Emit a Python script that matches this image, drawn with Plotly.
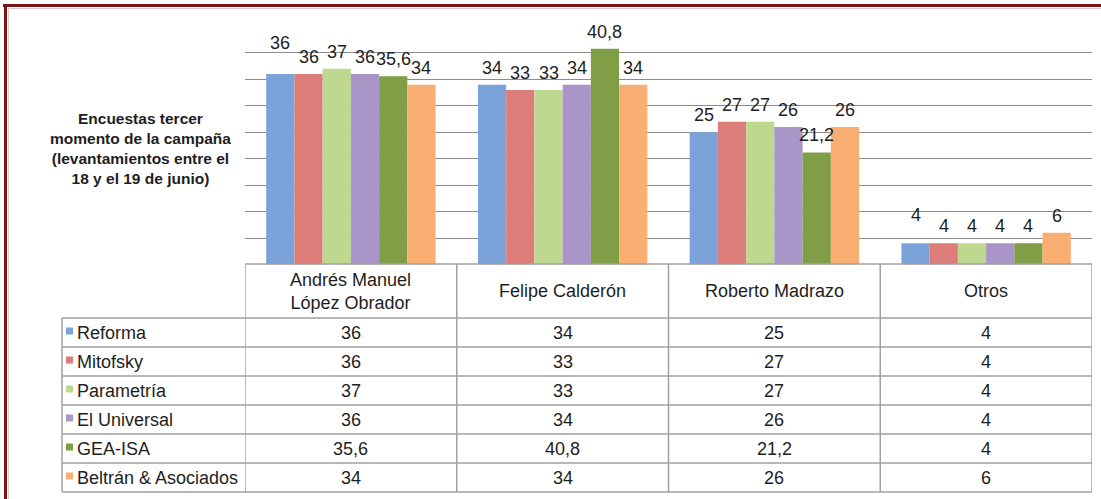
import plotly.graph_objects as go

W, H = 1101, 499

# ---------------- data ----------------
categories = ["Andrés Manuel López Obrador", "Felipe Calderón", "Roberto Madrazo", "Otros"]
header_labels = ["Andrés Manuel<br>López Obrador", "Felipe Calderón", "Roberto Madrazo", "Otros"]
series_names = ["Reforma", "Mitofsky", "Parametría", "El Universal", "GEA-ISA", "Beltrán & Asociados"]
reforma = [36, 34, 25, 4]
mitofsky = [36, 33, 27, 4]
parametria = [37, 33, 27, 4]
el_universal = [36, 34, 26, 4]
gea_isa = [35.6, 40.8, 21.2, 4]
beltran = [34, 34, 26, 6]
series_values = [reforma, mitofsky, parametria, el_universal, gea_isa, beltran]
title_text = ("<b>Encuestas tercer<br>momento de la campaña<br>"
              "(levantamientos entre el<br>18 y el 19 de junio)</b>")

# ---------------- style ----------------
colors = ["#7ba3d9", "#dc7d7a", "#bfd88f", "#a995c8", "#7f9e45", "#f9ae72"]
FONT = "Liberation Sans, Arial, sans-serif"
TXT = "#1e1e1e"
GRID = "#8c8c8c"
TABLE_LINE = "#a0a0a0"
BORDER = "#7d1416"
FS = 18

PLOT_L, PLOT_R, PLOT_T, PLOT_B = 245, 1092, 26.5, 264.5
BARGAP = 0.2
TABLE_L = 62
HEADER_TOP = 264
HEADER_H = 54
ROW_H = 29
LABEL_LIFT = 17
EXTRA_LIFT = {(0, 0): 14, (0, 3): 11}


def fmt(v):
    return f"{v:g}".replace(".", ",")


def px_x(p):
    return p / W


def px_y(p):
    return 1 - p / H


fig = go.Figure()
for name, vals, col in zip(series_names, series_values, colors):
    fig.add_trace(go.Bar(x=categories, y=vals, name=name,
                         marker=dict(color=col, line=dict(width=0)),
                         showlegend=False, hoverinfo="skip"))

annotations = []
shapes = []
n = len(series_names)
wbar = (1 - BARGAP) / n
# value labels above bars
for i, vals in enumerate(series_values):
    for j, v in enumerate(vals):
        xc = j - (1 - BARGAP) / 2 + (i + 0.5) * wbar
        annotations.append(dict(x=xc, y=v, xref="x", yref="y", text=fmt(v),
                                showarrow=False, xanchor="center", yanchor="middle",
                                yshift=LABEL_LIFT + EXTRA_LIFT.get((i, j), 0),
                                font=dict(family=FONT, size=FS, color=TXT)))

# title at left
annotations.append(dict(x=px_x(140), y=px_y(149), xref="paper", yref="paper",
                        text=title_text, showarrow=False, align="center",
                        xanchor="center", yanchor="middle",
                        font=dict(family=FONT, size=15.5, color=TXT)))

# ---------------- data table ----------------
header_bottom = HEADER_TOP + HEADER_H
table_bottom = header_bottom + ROW_H * n
line = dict(color=TABLE_LINE, width=1.5)
# header top line
shapes.append(dict(type="line", xref="x", yref="paper", x0=-0.5, x1=len(categories) - 0.5,
                   y0=px_y(HEADER_TOP), y1=px_y(HEADER_TOP), line=line))
# row lines
for k in range(n + 1):
    yy = px_y(header_bottom + k * ROW_H)
    shapes.append(dict(type="line", xref="paper", yref="paper", x0=px_x(TABLE_L), x1=px_x(PLOT_R),
                       y0=yy, y1=yy, line=line))
# vertical lines at category boundaries
for k in range(len(categories) + 1):
    shapes.append(dict(type="line", xref="x", yref="paper", x0=k - 0.5, x1=k - 0.5,
                       y0=px_y(HEADER_TOP), y1=px_y(table_bottom), line=line))
shapes.append(dict(type="line", xref="paper", yref="paper", x0=px_x(TABLE_L), x1=px_x(TABLE_L),
                   y0=px_y(header_bottom), y1=px_y(table_bottom), line=line))

# header text
for j, lab in enumerate(header_labels):
    annotations.append(dict(x=j, y=px_y(HEADER_TOP + HEADER_H / 2), xref="x", yref="paper",
                            text=lab, showarrow=False, align="center",
                            xanchor="center", yanchor="middle",
                            font=dict(family=FONT, size=FS, color=TXT)))
# rows
for i, (name, vals, col) in enumerate(zip(series_names, series_values, colors)):
    yc = header_bottom + ROW_H * (i + 0.5)
    shapes.append(dict(type="rect", xref="paper", yref="paper",
                       x0=px_x(66), x1=px_x(73), y0=px_y(yc - 5), y1=px_y(yc + 2),
                       line=dict(width=0), fillcolor=col))
    annotations.append(dict(x=px_x(75), y=px_y(yc), xref="paper", yref="paper",
                            text=name, showarrow=False, xanchor="left", yanchor="middle",
                            font=dict(family=FONT, size=FS, color=TXT)))
    for j, v in enumerate(vals):
        annotations.append(dict(x=j, y=px_y(yc), xref="x", yref="paper",
                                text=fmt(v), showarrow=False,
                                xanchor="center", yanchor="middle",
                                font=dict(family=FONT, size=FS, color=TXT)))

# outer frame (top + left) with faint shadow
shapes.append(dict(type="line", xref="paper", yref="paper", x0=px_x(8), x1=1,
                   y0=px_y(8.5), y1=px_y(8.5), line=dict(color="#cfcfcf", width=1)))
shapes.append(dict(type="line", xref="paper", yref="paper", x0=px_x(8.5), x1=px_x(8.5),
                   y0=px_y(8), y1=0, line=dict(color="#cfcfcf", width=1)))
shapes.append(dict(type="line", xref="paper", yref="paper", x0=px_x(3), x1=1,
                   y0=px_y(5.5), y1=px_y(5.5), line=dict(color=BORDER, width=3)))
shapes.append(dict(type="line", xref="paper", yref="paper", x0=px_x(5.5), x1=px_x(5.5),
                   y0=px_y(4), y1=0, line=dict(color=BORDER, width=3)))

fig.update_layout(
    width=W, height=H,
    margin=dict(l=0, r=0, t=0, b=0),
    paper_bgcolor="white", plot_bgcolor="white",
    barmode="group", bargap=BARGAP, bargroupgap=0,
    font=dict(family=FONT, color=TXT),
    xaxis=dict(domain=[px_x(PLOT_L), px_x(PLOT_R)], range=[-0.5, len(categories) - 0.5],
               showticklabels=False, showgrid=False, zeroline=False, showline=False,
               ticks="", fixedrange=True),
    yaxis=dict(domain=[px_y(PLOT_B), px_y(PLOT_T)], range=[0, 45], dtick=5,
               showgrid=True, gridcolor=GRID, gridwidth=1.4, showticklabels=False,
               zeroline=False, showline=False, ticks="", fixedrange=True),
    annotations=annotations, shapes=shapes,
    hovermode=False,
)

fig.write_html("out.html", config={"displayModeBar": False},
               post_script="document.body.style.margin='0';")
